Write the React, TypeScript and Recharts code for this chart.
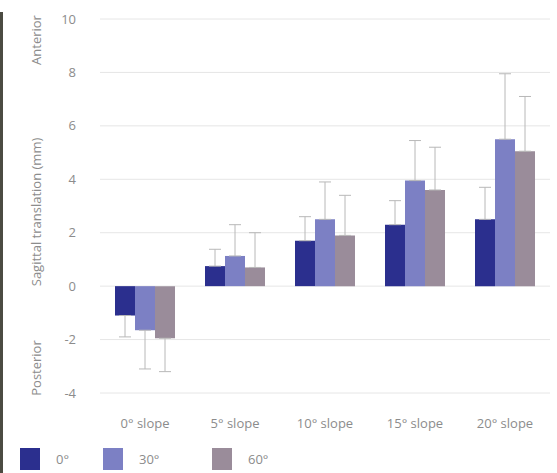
import React from 'react';
import {
  BarChart,
  Bar,
  XAxis,
  YAxis,
  CartesianGrid,
  ErrorBar,
  Label
} from 'recharts';

const slopes = ['0° slope', '5° slope', '10° slope', '15° slope', '20° slope'];
const yTicks = [-4, -2, 0, 2, 4, 6, 8, 10];

// mean sagittal translation (mm) per knee angle
const mean0 = [-1.1, 0.75, 1.7, 2.3, 2.5];
const mean30 = [-1.65, 1.13, 2.5, 3.95, 5.5];
const mean60 = [-1.95, 0.7, 1.9, 3.6, 5.05];

// one-sided error (SD) per knee angle
const sd0 = [0.8, 0.63, 0.9, 0.9, 1.2];
const sd30 = [1.45, 1.17, 1.4, 1.5, 2.45];
const sd60 = [1.25, 1.3, 1.5, 1.6, 2.05];

const series = [
  { key: 'a0', name: '0°', color: '#2b2f8e', mean: mean0, sd: sd0 },
  { key: 'a30', name: '30°', color: '#7c80c4', mean: mean30, sd: sd30 },
  { key: 'a60', name: '60°', color: '#9a8c9a', mean: mean60, sd: sd60 }
];

// error drawn away from zero only
const oneSided = (v: number, e: number) => (v < 0 ? [e, 0] : [0, e]);

const data = slopes.map((slope, i) => {
  const row: Record<string, any> = { slope };
  series.forEach((s) => {
    row[s.key] = s.mean[i];
    row[s.key + 'Err'] = oneSided(s.mean[i], s.sd[i]);
  });
  return row;
});

const font = '"Open Sans", Lato, sans-serif';
const fontSize = 13;
const textColor = '#8c8c8c';

const legendLeft = [20, 103, 212];

const SideLabels = () => {
  const x = 36;
  const items = [
    { text: 'Anterior', y: 40 },
    { text: 'Sagittal translation (mm)', y: 212 },
    { text: 'Posterior', y: 368 }
  ];
  return (
    <g>
      {items.map((it) => (
        <text
          key={it.text}
          x={x}
          y={it.y}
          transform={`rotate(-90, ${x}, ${it.y})`}
          textAnchor="middle"
          dominantBaseline="central"
          fontFamily={font}
          fontSize={fontSize}
          fill={textColor}
        >
          {it.text}
        </text>
      ))}
    </g>
  );
};

const App: React.FC = () => {
  return (
    <div style={{ position: 'absolute', left: 0, top: 0, width: 557, height: 473, background: '#fff' }}>
      <div style={{ position: 'absolute', left: 0, top: 12, width: 3, height: 461, background: '#4b4b42' }} />
      <BarChart
        width={557}
        height={473}
        data={data}
        margin={{ top: 19, right: 7, left: 30, bottom: 50 }}
        barCategoryGap={15}
        barGap={0}
      >
        <CartesianGrid horizontal={true} vertical={false} stroke="#e6e6e6" />
        <XAxis
          dataKey="slope"
          height={30}
          axisLine={false}
          tickLine={false}
          tickMargin={20}
          tick={{ fontFamily: font, fontSize, fill: textColor }}
        />
        <YAxis
          type="number"
          domain={[-4, 10]}
          ticks={yTicks}
          width={70}
          axisLine={false}
          tickLine={false}
          tickMargin={18}
          tick={{ fontFamily: font, fontSize, fill: textColor }}
        >
          <Label content={<SideLabels />} />
        </YAxis>
        {series.map((s) => (
          <Bar key={s.key} dataKey={s.key} name={s.name} fill={s.color} isAnimationActive={false}>
            <ErrorBar dataKey={s.key + 'Err'} width={6} stroke="#b8b8b8" strokeWidth={1} />
          </Bar>
        ))}
      </BarChart>
      {/* legend */}
      {series.map((s, i) => (
        <div
          key={s.key}
          style={{
            position: 'absolute',
            left: legendLeft[i],
            top: 448,
            display: 'flex',
            alignItems: 'center',
            fontFamily: font,
            fontSize,
            color: textColor
          }}
        >
          <div style={{ width: 20, height: 22, background: s.color }} />
          <span style={{ marginLeft: 16 }}>{s.name}</span>
        </div>
      ))}
    </div>
  );
};

export default App;
